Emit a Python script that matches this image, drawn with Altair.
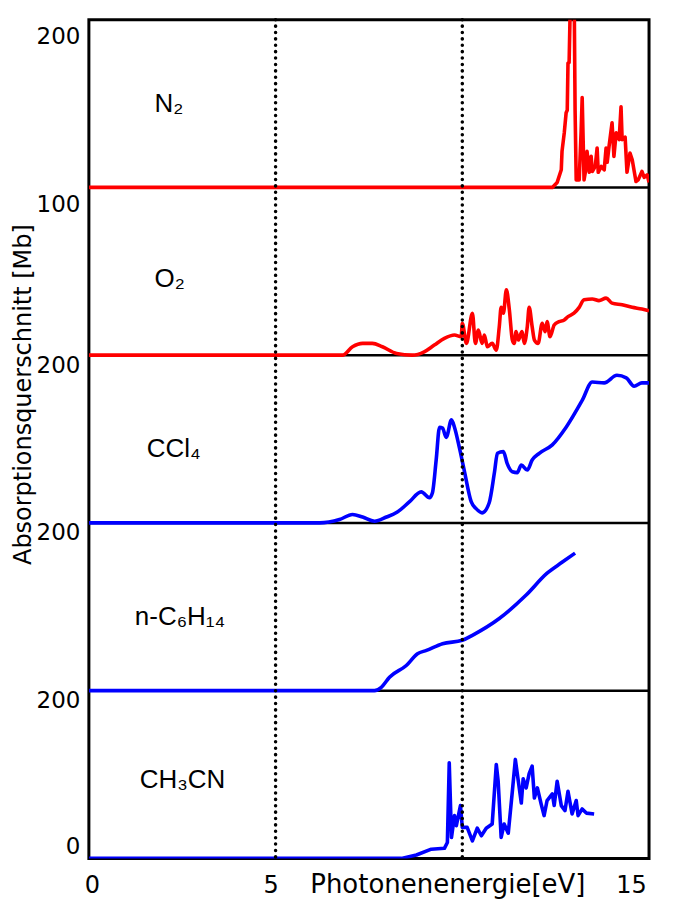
import altair as alt
import pandas as pd

# ---------------- data (eV, Mb) ----------------
panels = ["N₂", "O₂", "CCl₄", "n-C₆H₁₄", "CH₃CN"]          # top to bottom
panel_colors = ["#FF0000", "#FF0000", "#0000FF", "#0000FF", "#0000FF"]
panel_offsets = [800, 600, 400, 200, 0]                      # stacking of the panels
panel_interp = ["linear", "monotone", "monotone", "monotone", "linear"]

n2_ev = [0, 12.41, 12.54, 12.65, 12.67, 12.73, 12.78, 12.81, 12.83, 12.86, 12.91, 12.99,
         13.02, 13.05, 13.13, 13.18, 13.21, 13.26, 13.32, 13.34, 13.40, 13.45, 13.48,
         13.56, 13.61, 13.64, 13.72, 13.80, 13.85, 13.88, 13.93, 14.01, 14.06, 14.12,
         14.20, 14.25, 14.28, 14.36, 14.41, 14.49, 14.55, 14.65, 14.71, 14.81, 14.87,
         14.95, 15.0]
n2_mb = [0, 0, 6, 21, 43, 65, 89, 92, 148, 149, 260, 260,
         92, 9, 9, 65, 107, 9, 25, 43, 18, 37, 19,
         25, 47, 18, 25, 21, 47, 30, 49, 77, 37, 65,
         57, 96, 57, 60, 18, 41, 33, 7, 9, 19, 12,
         15, 6]

o2_ev = [0, 6.79, 7.06, 7.33, 7.59, 7.86, 8.24, 8.66, 8.98, 9.25, 9.52, 9.79, 9.97,
         10.00, 10.11, 10.27, 10.35, 10.43, 10.53, 10.59, 10.67, 10.80, 10.91, 10.99,
         11.04, 11.10, 11.18, 11.26, 11.34, 11.39, 11.44, 11.50, 11.60, 11.66, 11.74,
         11.79, 11.87, 11.93, 12.03, 12.14, 12.22, 12.27, 12.35, 12.46, 12.59, 12.73,
         12.83, 12.99, 13.13, 13.26, 13.48, 13.66, 13.85, 14.01, 14.28, 14.55, 14.81, 15.0]
o2_mb = [0, 0, 10, 14, 14, 10, 2, 0, 4, 12, 20, 24, 22,
         38, 14, 50, 14, 30, 14, 24, 10, 14, 6, 34,
         57, 50, 78, 54, 18, 14, 28, 18, 28, 14, 34,
         57, 34, 18, 14, 38, 28, 40, 22, 36, 40, 42,
         46, 50, 57, 66, 67, 65, 68, 62, 60, 57, 55, 53]

ccl4_ev = [0, 5.64, 6.18, 6.71, 7.06, 7.33, 7.65, 7.97, 8.26, 8.58, 8.90, 9.12, 9.20,
           9.30, 9.39, 9.47, 9.57, 9.71, 9.79, 9.92, 10.05, 10.24, 10.37, 10.53, 10.72,
           10.86, 10.94, 11.10, 11.20, 11.34, 11.47, 11.58, 11.74, 11.87, 12.06, 12.41,
           12.78, 13.21, 13.48, 13.80, 14.14, 14.39, 14.60, 14.81, 15.0]
ccl4_mb = [0, 0, 0, 4, 10, 7, 2, 7, 13, 25, 37, 30, 36,
           75, 114, 113, 102, 123, 114, 90, 63, 25, 17, 12, 24,
           60, 83, 85, 71, 61, 60, 69, 63, 75, 83, 93,
           114, 146, 168, 167, 176, 173, 163, 167, 167]

hex_ev = [0, 7.65, 7.83, 8.05, 8.50, 8.80, 9.04, 9.47, 10.00, 10.27, 10.99, 11.71,
          12.27, 12.67, 13.02]
hex_mb = [0, 0, 4, 16, 30, 44, 48, 56, 60, 66, 86, 114,
          140, 153, 164]

ch3cn_ev = [0, 8.37, 8.77, 9.17, 9.52, 9.60, 9.65, 9.71, 9.79, 9.84, 9.95, 10.00,
            10.13, 10.27, 10.40, 10.51, 10.64, 10.80, 10.91, 10.96, 11.04, 11.12, 11.23,
            11.34, 11.42, 11.50, 11.58, 11.63, 11.71, 11.79, 11.87, 11.93, 12.01, 12.11,
            12.19, 12.27, 12.41, 12.46, 12.54, 12.65, 12.75, 12.83, 12.94, 13.05, 13.10,
            13.21, 13.32, 13.53]
ch3cn_mb = [0, 0, 4, 11, 12, 19, 114, 25, 51, 39, 63, 37,
            37, 21, 36, 27, 36, 41, 112, 92, 25, 41, 30,
            80, 118, 92, 66, 95, 84, 101, 110, 72, 84, 65,
            51, 69, 77, 63, 92, 63, 57, 80, 53, 69, 51,
            59, 54, 53]

series_ev = [n2_ev, o2_ev, ccl4_ev, hex_ev, ch3cn_ev]
series_mb = [n2_mb, o2_mb, ccl4_mb, hex_mb, ch3cn_mb]

# panel labels (position inside each panel, eV / Mb)
label_ev = [1.76, 1.76, 1.55, 1.23, 1.36]
label_mb = [90, 81, 79, 78, 84]

separators = [200, 400, 600, 800]
marker_ev = [5, 10]

x_tick_values = [0, 5, 15]
y_tick_values = [0, 200, 400, 600, 800, 1000]
y_tick_labels = ["0", "200", "200", "200", "100", "200"]

# ---------------- tables ----------------
rows = []
for name, off, interp, evs, mbs in zip(panels, panel_offsets, panel_interp, series_ev, series_mb):
    for e, m in zip(evs, mbs):
        rows.append({"ev": e, "mb": m, "panel": name, "interp": interp, "ystack": m + off})
df = pd.DataFrame(rows)

lab_df = pd.DataFrame({"panel": panels, "ev": label_ev,
                       "ystack": [m + o for m, o in zip(label_mb, panel_offsets)]})
sep_df = pd.DataFrame({"b": separators})
mark_df = pd.DataFrame({"ev": marker_ev})

FONT = "DejaVu Sans"
label_expr = "[" + ",".join("'%s'" % t for t in y_tick_labels) + "][round(datum.value/200)]"

x_axis = alt.Axis(values=x_tick_values, format="d", ticks=False, tickSize=0, domain=False,
                  grid=False, labelFlush=False, labelFont=FONT, labelFontSize=24,
                  labelColor="black", labelBaseline="alphabetic", labelPadding=34,
                  labelOffset={"condition": [{"test": "datum.value == 0", "value": 3},
                                             {"test": "datum.value == 5", "value": -5}],
                               "value": -18},
                  title="Photonenenergie[eV]", titleFont=FONT, titleFontSize=26,
                  titleFontWeight="normal", titleColor="black",
                  titleX=359, titleY=34, titleAlign="center", titleBaseline="alphabetic")
y_axis = alt.Axis(values=y_tick_values, labelExpr=label_expr, ticks=False, tickSize=0,
                  domain=False, grid=False, labelFlush=False, labelFont=FONT, labelFontSize=23,
                  labelColor="black", labelBaseline="middle", labelPadding=9,
                  labelOffset={"condition": [{"test": "datum.value == 0", "value": -12},
                                             {"test": "datum.value >= 800", "value": 17}],
                               "value": 10},
                  title="Absorptionsquerschnitt [Mb]", titleFont=FONT, titleFontSize=24,
                  titleFontWeight="normal", titleColor="black", titleAngle=270,
                  titleX=-65, titleY=375, titleAlign="center", titleBaseline="middle")

xs = alt.Scale(domain=[0, 15], nice=False, zero=False)
ys = alt.Scale(domain=[0, 1000], nice=False)
X = alt.X("ev:Q", scale=xs, axis=x_axis)
Y = alt.Y("ystack:Q", scale=ys, axis=y_axis)
color = alt.Color("panel:N", scale=alt.Scale(domain=panels, range=panel_colors), legend=None)

sep = alt.Chart(sep_df).mark_rule(color="black", strokeWidth=2.5).encode(
    y=alt.Y("b:Q", scale=ys, axis=y_axis))

lin = alt.Chart(df).transform_filter("datum.interp == 'linear'").mark_line(
    strokeWidth=3.6, clip=True, interpolate="linear", strokeJoin="round").encode(
    x=X, y=Y, color=color, detail="panel:N", order="ev:Q")
smo = alt.Chart(df).transform_filter("datum.interp == 'monotone'").mark_line(
    strokeWidth=3.6, clip=True, interpolate="monotone", strokeJoin="round").encode(
    x=X, y=Y, color=color, detail="panel:N", order="ev:Q")

dots = alt.Chart(mark_df).mark_rule(color="black", strokeWidth=3.5, strokeDash=[0.1, 6.3],
                                    strokeCap="round").encode(x=X)

labels = alt.Chart(lab_df).mark_text(align="left", baseline="alphabetic", fontSize=26,
                                     font="Liberation Sans, DejaVu Sans", color="black").encode(
    x=X, y=Y, text="panel:N")

chart = alt.layer(sep, lin, smo, dots, labels).properties(
    width=561, height=840,
    autosize=alt.AutoSizeParams(type="none"),
    padding={"left": 81, "top": 11, "right": 20, "bottom": 50},
    background="white",
).configure_view(stroke="black", strokeWidth=3)

chart.save("out.html", embed_options={"renderer": "svg", "actions": False})
